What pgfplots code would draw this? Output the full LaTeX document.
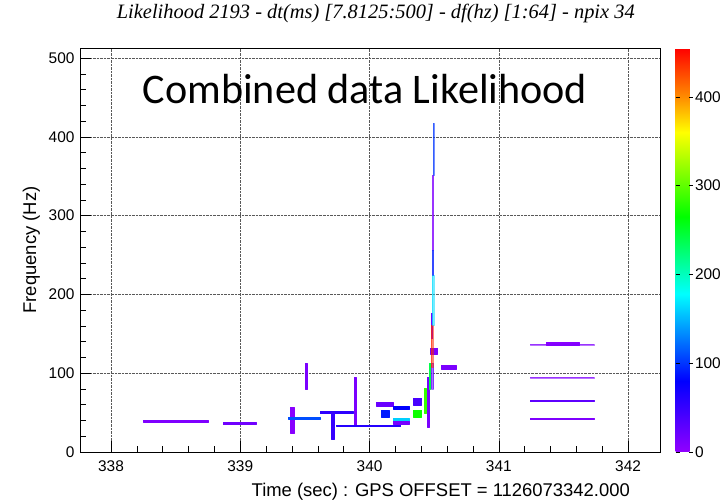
\documentclass[border=0pt]{standalone}
\usepackage{fontspec}
\setmainfont{Liberation Sans}
\newfontfamily\timesf{Liberation Serif}
\newfontfamily\bigf{Carlito}
\usepackage{pgfplots}
\pgfplotsset{compat=1.18}
\begin{document}
\begin{tikzpicture}
\path[use as bounding box] (0,0) rectangle (727bp,501bp);
\begin{axis}[
  at={(80bp,49bp)}, anchor=south west,
  scale only axis, width=580bp, height=404bp,
  xmin=337.76, xmax=342.247, ymin=0, ymax=512.7,
  /pgf/number format/assume math mode=true,
  xtick={338,339,340,341,342}, ytick={0,100,200,300,400,500},
  xticklabels={338,339,340,341,342},
  minor x tick num=4, minor y tick num=4,
  xtick pos=lower, ytick pos=left, tick align=inside,
  major tick length=11bp, minor tick length=6bp,
  tick style={black, line width=0.5pt},
  axis line style={black, line width=0.6pt},
  xmajorgrids, ymajorgrids,
  grid style={densely dotted, gray!70!black, line width=0.6pt},
  ticklabel style={font=\fontsize{15.5}{18}\selectfont},
  xticklabel style={yshift=-5bp},
  yticklabel style={xshift=-2bp},
  xlabel={Time (sec) : GPS OFFSET = 1126073342.000},
  ylabel={Frequency (Hz)},
  label style={font=\fontsize{18.5}{22}\selectfont},
  xlabel style={at={(axis description cs:0.622,0)}, anchor=base, yshift=-44bp},
  ylabel style={at={(axis description cs:0,0.5)}, anchor=base, yshift=44bp},
  title={\timesf\itshape Likelihood 2193 - dt(ms) [7.8125:500] - df(hz) [1:64] - npix 34},
  title style={font=\fontsize{20.5}{24}\selectfont, at={(axis description cs:0.51,1)}, anchor=base, yshift=24bp},
  colormap={rootpal}{rgb255(0pt)=(145,0,255) rgb255(80pt)=(0,0,255) rgb255(178pt)=(0,255,255) rgb255(265pt)=(0,255,0) rgb255(360pt)=(255,255,0) rgb255(400pt)=(255,140,0) rgb255(455pt)=(255,0,0)},
  point meta min=0, point meta max=455,
  colorbar,
  colorbar style={
    at={(parent axis.south east)}, anchor=south west, xshift=7bp,
    scale only axis, width=17bp, height=404bp,
    ytick={0,100,200,300,400}, yticklabel pos=right,
    axis line style={draw=none}, tick align=inside,
    major tick length=4bp, tick style={black, line width=0.6pt},
    /pgf/number format/assume math mode=true,
    yticklabel style={font=\fontsize{15.5}{18}\selectfont, xshift=-1bp},
  },
]
\addplot[patch, patch type=rectangle, shader=flat] table[point meta=\thisrow{c}] {
x y c
338.25 38.2 10
338.75 38.2 10
338.75 40.6 10
338.25 40.6 10
338.87 34.8 18
339.12 34.8 18
339.12 38.0 18
338.87 38.0 18
339.500 80 12
339.515 80 12
339.515 113 12
339.500 113 12
339.385 24 5
339.418 24 5
339.418 57 5
339.385 57 5
339.37 42 110
339.62 42 110
339.62 44.2 110
339.37 44.2 110
339.62 48.8 55
339.87 48.8 55
339.87 52 55
339.62 52 55
339.707 16 50
339.723 16 50
339.723 50 50
339.707 50 50
339.884 33 12
339.896 33 12
339.896 95.5 12
339.884 95.5 12
339.745 32.3 60
340.24 32.3 60
340.24 34.6 60
339.745 34.6 60
340.055 57.5 22
340.18 57.5 22
340.18 62.6 22
340.055 62.6 22
340.088 44 90
340.152 44 90
340.152 53.3 90
340.088 53.3 90
340.18 54.1 80
340.305 54.1 80
340.305 58.7 80
340.18 58.7 80
340.18 38.5 160
340.305 38.5 160
340.305 42.7 160
340.18 42.7 160
340.18 34.9 15
340.305 34.9 15
340.305 38.5 15
340.18 38.5 15
340.338 59.6 40
340.402 59.6 40
340.402 68 40
340.338 68 40
340.338 44 270
340.402 44 270
340.402 53.3 270
340.338 53.3 270
340.420 49 285
340.440 49 285
340.440 81 285
340.420 81 285
340.449 32 12
340.460 32 12
340.460 95.5 12
340.449 95.5 12
340.462 80 240
340.473 80 240
340.473 112.6 240
340.462 112.6 240
340.467 124.4 12
340.527 124.4 12
340.527 131.6 12
340.467 131.6 12
340.476 144 15
340.488 144 15
340.488 176 15
340.476 176 15
340.557 105.7 12
340.67 105.7 12
340.67 110 12
340.557 110 12
341.37 135.8 5
341.62 135.8 5
341.62 139.2 5
341.37 139.2 5
341.24 64.1 28
341.74 64.1 28
341.74 65.2 28
341.24 65.2 28
341.24 41 10
341.74 41 10
341.74 43.2 10
341.24 43.2 10
};
\addplot[patch, patch type=rectangle, shader=flat, opacity=0.55] table[point meta=\thisrow{c}] {
x y c
340.475 80 25
340.496 80 25
340.496 112.6 25
340.475 112.6 25
340.478 108 440
340.489 108 440
340.489 161 440
340.478 161 440
340.486 161 165
340.497 161 165
340.497 224.6 165
340.486 224.6 165
340.485 256 10
340.496 256 10
340.496 351.5 10
340.485 351.5 10
340.485 224.6 90
340.496 224.6 90
340.496 256 90
340.485 256 90
340.493 351.5 100
340.502 351.5 100
340.502 417.5 100
340.493 417.5 100
341.24 135.5 10
341.74 135.5 10
341.74 137.4 10
341.24 137.4 10
341.24 93.5 10
341.74 93.5 10
341.74 95.4 10
341.24 95.4 10
};
\end{axis}
\node[font=\bigf\fontsize{42.3}{48}\selectfont, anchor=base] at (365bp,397bp) {Combined data Likelihood};
\end{tikzpicture}
\end{document}
